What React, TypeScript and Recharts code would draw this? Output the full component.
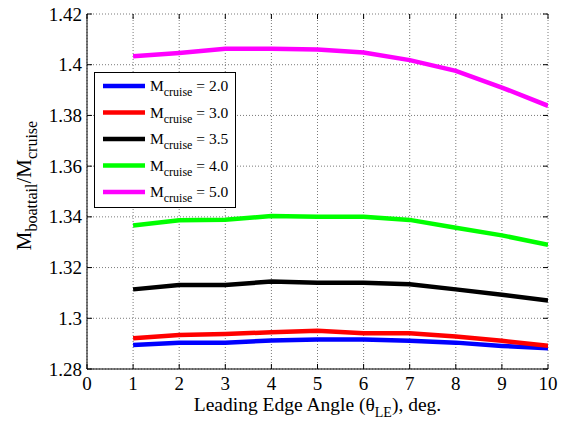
import React from "react";
import {
  LineChart,
  Line,
  XAxis,
  YAxis,
  CartesianGrid,
  Legend,
  Label,
} from "recharts";

// Leading edge angle, deg.
const angles = [1, 2, 3, 4, 5, 6, 7, 8, 9, 10];

// Boattail-to-cruise Mach ratio for each cruise Mach number
const mach20 = [1.2895, 1.2904, 1.2904, 1.2912, 1.2916, 1.2916, 1.2911, 1.2904, 1.2891, 1.2882];
const mach30 = [1.2921, 1.2934, 1.2938, 1.2945, 1.2951, 1.2941, 1.2941, 1.2928, 1.2911, 1.2892];
const mach35 = [1.3114, 1.3131, 1.3131, 1.3145, 1.314, 1.314, 1.3134, 1.3114, 1.3093, 1.307];
const mach40 = [1.3366, 1.3387, 1.3389, 1.3403, 1.34, 1.34, 1.3388, 1.3357, 1.3327, 1.329];
const mach50 = [1.4033, 1.4046, 1.4063, 1.4063, 1.406, 1.4048, 1.4018, 1.3976, 1.391, 1.3838];

const xTicks = [0, 1, 2, 3, 4, 5, 6, 7, 8, 9, 10];
const yTicks = [1.28, 1.3, 1.32, 1.34, 1.36, 1.38, 1.4, 1.42];

const seriesDefs = [
  { key: "m20", label: "2.0", color: "#0000ff", values: mach20 },
  { key: "m30", label: "3.0", color: "#ff0000", values: mach30 },
  { key: "m35", label: "3.5", color: "#000000", values: mach35 },
  { key: "m40", label: "4.0", color: "#00ff00", values: mach40 },
  { key: "m50", label: "5.0", color: "#ff00ff", values: mach50 },
];

const data = angles.map((a, i) => {
  const row: Record<string, number> = { angle: a };
  seriesDefs.forEach((s) => {
    row[s.key] = s.values[i];
  });
  return row;
});

const W = 565;
const H = 421;
const M_TOP = 14;
const M_RIGHT = 17;
const Y_AXIS_W = 87;
const X_AXIS_H = 52;
const PLOT_RIGHT = W - M_RIGHT;
const PLOT_TOP = M_TOP;
const SERIF = "'Liberation Serif', 'Times New Roman', Times, serif";
const serifStyle = { fontFamily: SERIF };

const XTick = (props: any) => {
  const { x, y, payload } = props;
  return (
    <g>
      <line x1={x} x2={x} y1={y} y2={y - 5} stroke="#000" strokeWidth={1} />
      <line x1={x} x2={x} y1={PLOT_TOP} y2={PLOT_TOP + 5} stroke="#000" strokeWidth={1} />
      <text x={x} y={y + 21} textAnchor="middle" fontSize={19} style={serifStyle} fill="#000">
        {payload.value}
      </text>
    </g>
  );
};

const YTick = (props: any) => {
  const { x, y, payload } = props;
  return (
    <g>
      <line x1={x} x2={x + 5} y1={y} y2={y} stroke="#000" strokeWidth={1} />
      <line x1={PLOT_RIGHT - 5} x2={PLOT_RIGHT} y1={y} y2={y} stroke="#000" strokeWidth={1} />
      <text x={x - 5} y={y + 6.5} textAnchor="end" fontSize={19} style={serifStyle} fill="#000">
        {String(payload.value)}
      </text>
    </g>
  );
};

const XTitle = (props: any) => {
  const vb = props.viewBox || {};
  const cx = vb.x + vb.width / 2;
  return (
    <text x={cx} y={411} textAnchor="middle" fontSize={19.5} style={serifStyle} fill="#000">
      Leading Edge Angle (θ
      <tspan dy={6} fontSize={14}>LE</tspan>
      <tspan dy={-6}>), deg.</tspan>
    </text>
  );
};

const YTitle = (props: any) => {
  const vb = props.viewBox || {};
  const cy = vb.y + vb.height / 2 - 6;
  const bx = 31;
  return (
    <text
      x={bx}
      y={cy}
      transform={`rotate(-90 ${bx} ${cy})`}
      textAnchor="middle"
      fontSize={21}
      style={serifStyle}
      fill="#000"
    >
      M
      <tspan dy={6} fontSize={16}>boattail</tspan>
      <tspan dy={-6}>/M</tspan>
      <tspan dy={6} fontSize={16}>cruise</tspan>
    </text>
  );
};

const LegendBox = (props: any) => {
  const payload = props.payload || [];
  const w = 142;
  const h = 136;
  return (
    <svg width={w} height={h} style={{ display: "block" }}>
      <rect x={0.5} y={0.5} width={w - 1} height={h - 1} fill="#fff" stroke="#000" strokeWidth={1} />
      {payload.map((p: any, i: number) => {
        const cy = 14 + i * 26.5;
        const def = seriesDefs.find((s) => s.key === p.dataKey);
        return (
          <g key={i}>
            <line x1={9} x2={51} y1={cy} y2={cy} stroke={p.color} strokeWidth={4.5} />
            <text x={56} y={cy + 5} fontSize={15.5} style={serifStyle} fill="#000">
              M
              <tspan dy={5} fontSize={12}>cruise</tspan>
              <tspan dy={-5}>{` = ${def ? def.label : ""}`}</tspan>
            </text>
          </g>
        );
      })}
    </svg>
  );
};

export default function App() {
  return (
    <div style={{ position: "fixed", left: 0, top: 0, width: W, height: H, background: "#fff" }}>
      <LineChart
        width={W}
        height={H}
        data={data}
        margin={{ top: M_TOP, right: M_RIGHT, bottom: 0, left: 0 }}
        style={serifStyle}
      >
        <CartesianGrid stroke="#7a7a7a" strokeDasharray="1 2" strokeWidth={1} />
        <XAxis
          dataKey="angle"
          type="number"
          domain={[0, 10]}
          ticks={xTicks}
          interval={0}
          height={X_AXIS_H}
          tickLine={false}
          tickSize={0}
          tickMargin={0}
          axisLine={{ stroke: "#000", strokeWidth: 1 }}
          tick={<XTick />}
          allowDataOverflow
        >
          <Label content={<XTitle />} />
        </XAxis>
        <YAxis
          type="number"
          domain={[1.28, 1.42]}
          ticks={yTicks}
          interval={0}
          width={Y_AXIS_W}
          tickLine={false}
          tickSize={0}
          tickMargin={0}
          axisLine={{ stroke: "#000", strokeWidth: 1 }}
          tick={<YTick />}
          allowDataOverflow
        >
          <Label content={<YTitle />} />
        </YAxis>
        <Legend
          layout="vertical"
          align="center"
          verticalAlign="middle"
          content={<LegendBox />}
          wrapperStyle={{ position: "absolute", left: 94, top: 72, width: 142, height: 136 }}
        />
        {seriesDefs.map((s) => (
          <Line
            key={s.key}
            dataKey={s.key}
            name={s.label}
            type="linear"
            stroke={s.color}
            strokeWidth={4.5}
            dot={false}
            activeDot={false}
            isAnimationActive={false}
          />
        ))}
      </LineChart>
    </div>
  );
}
